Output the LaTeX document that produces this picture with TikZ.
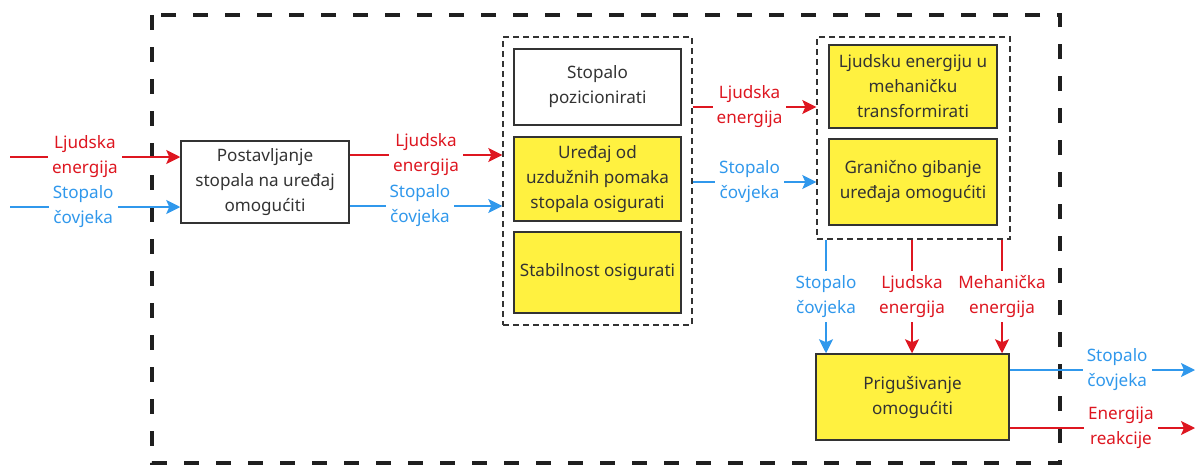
\documentclass[tikz,border=0pt]{standalone}
\usepackage{fontspec}
\setmainfont{Noto Sans}
\usetikzlibrary{arrows.meta}
\definecolor{ered}{RGB}{222,22,32}
\definecolor{sblue}{RGB}{48,152,236}
\definecolor{fyel}{RGB}{255,241,64}
\definecolor{dgray}{RGB}{51,51,51}

\begin{document}
\begin{tikzpicture}[x=1pt, y=-1pt, font=\fontsize{17.1}{25}\selectfont]
\tikzstyle{fn}=[draw=dgray, line width=1.5pt, text=dgray, align=center, inner sep=0pt, minimum width=168]
\tikzstyle{yfn}=[fn, fill=fyel]
\tikzstyle{grp}=[draw=dgray, line width=1.4pt, dash pattern=on 6pt off 4pt]
\tikzstyle{lbl}=[fill=white, align=center, inner sep=4pt]
\tikzstyle{rl}=[draw=ered, line width=1.5pt, -{Stealth[length=14pt,width=14pt,inset=3pt]}]
\tikzstyle{bl}=[draw=sblue, line width=1.5pt, -{Stealth[length=14pt,width=14pt,inset=3pt]}]
\useasboundingbox (0,0) rectangle (1195,466);
% system border
\draw[line width=4pt, black!88, dash pattern=on 15pt off 17pt] (152,15) rectangle (1060,463);
% functions
\node[fn, minimum height=82] (post) at (265,182) {Postavljanje\\stopala na uređaj\\omogućiti};
\node[fn, minimum width=167, minimum height=76] (poz) at (597.5,87) {Stopalo\\pozicionirati};
\node[yfn, minimum width=167, minimum height=84] (ured) at (597.5,179) {Uređaj od\\uzdužnih pomaka\\stopala osigurati};
\node[yfn, minimum width=167, minimum height=81] (stab) at (597.5,272.5) {Stabilnost osigurati};
\node[yfn, minimum height=83] (trans) at (913,86.5) {Ljudsku energiju u\\mehaničku\\transformirati};
\node[yfn, minimum height=86] (gran) at (913,182) {Granično gibanje\\uređaja omogućiti};
\node[yfn, minimum width=193, minimum height=86] (prig) at (912.5,397) {Prigušivanje\\omogućiti};
% groups
\node[grp, minimum width=189, minimum height=288] (g1) at (597.5,181) {};
\node[grp, minimum width=193, minimum height=202] (g2) at (913.5,138) {};
% free ends
\coordinate (in1) at (10,157);
\coordinate (in2) at (10,207);
\coordinate (out1) at (1195,370);
\coordinate (out2) at (1195,428);
\path ([yshift=27pt]post.east) coordinate (pr) ([yshift=-24pt]post.east) coordinate (pb)
  ([yshift=74pt]g1.east) coordinate (g1r) ([yshift=-1pt]g1.east) coordinate (g1b)
  ([xshift=-87.5pt]g2.south) coordinate (g2b) ([xshift=-1.5pt]g2.south) coordinate (g2r)
  ([xshift=88.5pt]g2.south) coordinate (g2m)
  ([yshift=27pt]prig.east) coordinate (pgb) ([yshift=-31pt]prig.east) coordinate (pgr);
% flows
\draw[rl] (in1) -- node[lbl, text=ered, pos=0.44] {Ljudska\\energija} (in1 -| post.west);
\draw[bl] (in2) -- node[lbl, text=sblue, pos=0.43] {Stopalo\\čovjeka} (in2 -| post.west);
\draw[rl] (pr) -- node[lbl, text=ered] {Ljudska\\energija} (pr -| g1.west);
\draw[bl] (pb) -- node[lbl, text=sblue, pos=0.46] {Stopalo\\čovjeka} (pb -| g1.west);
\draw[rl] (g1r) -- node[lbl, text=ered, pos=0.46] {Ljudska\\energija} (g1r -| g2.west);
\draw[bl] (g1b) -- node[lbl, text=sblue, pos=0.46] {Stopalo\\čovjeka} (g1b -| g2.west);
\draw[bl] (g2b) -- node[lbl, text=sblue] {Stopalo\\čovjeka} (g2b |- prig.north);
\draw[rl] (g2r) -- node[lbl, text=ered] {Ljudska\\energija} (g2r |- prig.north);
\draw[rl] (g2m) -- node[lbl, text=ered] {Mehanička\\energija} (g2m |- prig.north);
\draw[bl] (pgb) -- node[lbl, text=sblue, pos=0.58] {Stopalo\\čovjeka} (out1);
\draw[rl] (pgr) -- node[lbl, text=ered, pos=0.6] {Energija\\reakcije} (out2);
\end{tikzpicture}
\end{document}
